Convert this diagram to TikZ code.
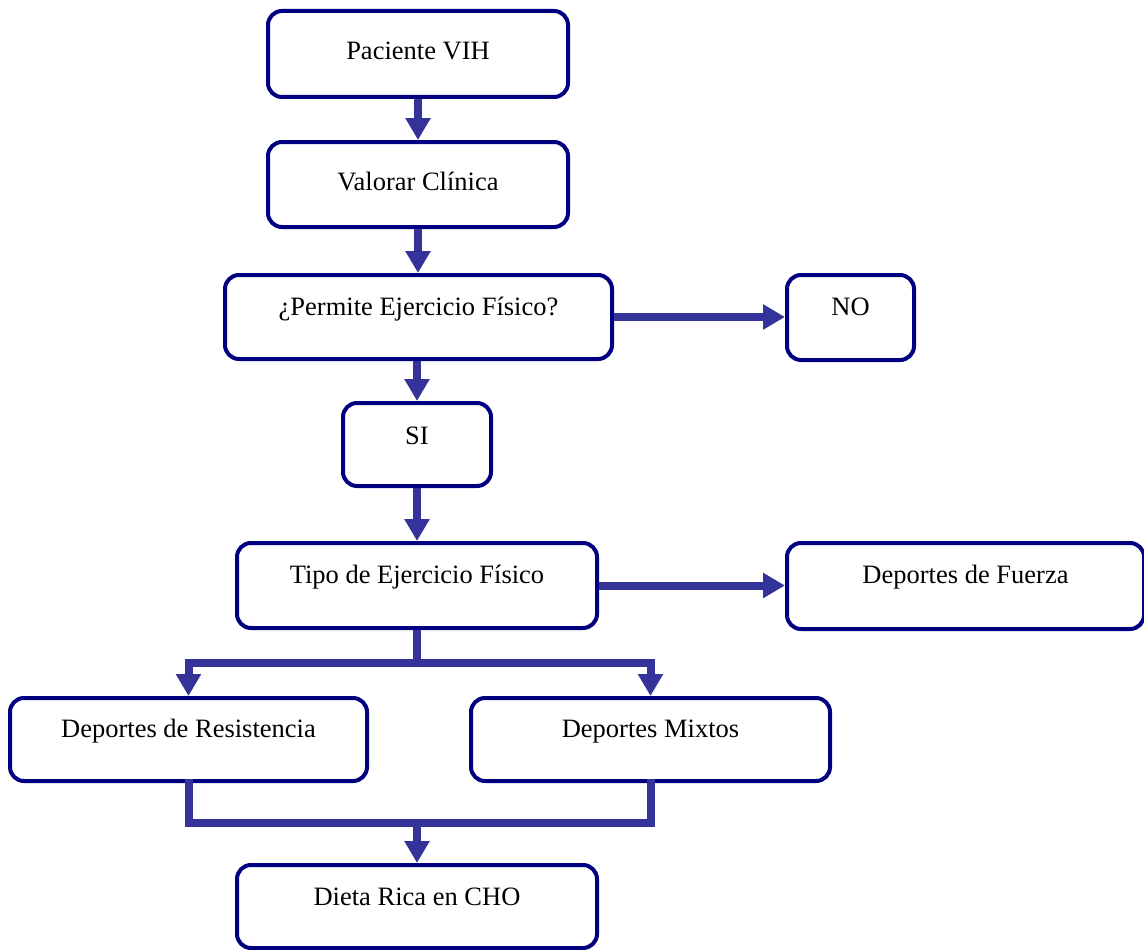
\documentclass[tikz,border=0pt]{standalone}
\usepackage{fontspec}
\setmainfont{Liberation Serif}
\usetikzlibrary{arrows.meta,calc}
\definecolor{boxline}{HTML}{000080}
\definecolor{arrowc}{HTML}{333399}
\tikzset{
  box/.style={draw=boxline, line width=4pt, rounded corners=14pt, fill=white, inner sep=0pt},
  txt/.style={anchor=base, inner sep=0pt, font=\fontsize{26.5}{30}\selectfont},
  conn/.style={draw=arrowc, line width=8pt},
  arr/.style={conn, -{Triangle[width=24pt,length=22pt]}}
}
\begin{document}
\begin{tikzpicture}[x=1pt,y=-1pt]
\useasboundingbox (0,0) rectangle (1144,950);
% boxes
\node[box, minimum width=300pt, minimum height=86pt] (A) at (418,54) {};
\node[box, minimum width=300pt, minimum height=85pt] (B) at (418,184.5) {};
\node[box, minimum width=387pt, minimum height=84pt] (C) at (418.5,317) {};
\node[box, minimum width=127pt, minimum height=85pt] (D) at (850.5,317.5) {};
\node[box, minimum width=148pt, minimum height=83pt] (E) at (417,444.5) {};
\node[box, minimum width=360pt, minimum height=85pt] (F) at (417,585.5) {};
\node[box, minimum width=357pt, minimum height=86pt] (G) at (965.5,586) {};
\node[box, minimum width=357pt, minimum height=83pt] (H) at (188.5,739.5) {};
\node[box, minimum width=359pt, minimum height=83pt] (I) at (650.5,739.5) {};
\node[box, minimum width=360pt, minimum height=83pt] (J) at (417,906.5) {};
% texts
\node[txt] (tA) at ($(A.north)+(0,51)$) {Paciente VIH};
\node[txt] (tB) at ($(B.north)+(0,50)$) {Valorar Clínica};
\node[txt] (tC) at ($(C.north)+(0,42)$) {¿Permite Ejercicio Físico?};
\node[txt] (tD) at ($(D.north)+(0,42)$) {NO};
\node[txt] (tE) at ($(E.north)+(0,43)$) {SI};
\node[txt] (tF) at ($(F.north)+(0,42)$) {Tipo de Ejercicio Físico};
\node[txt] (tG) at ($(G.north)+(0,42)$) {Deportes de Fuerza};
\node[txt] (tH) at ($(H.north)+(0,41)$) {Deportes de Resistencia};
\node[txt] (tI) at ($(I.north)+(0,41)$) {Deportes Mixtos};
\node[txt] (tJ) at ($(J.north)+(0,42)$) {Dieta Rica en CHO};
% connectors
\coordinate (split) at (417,663);
\coordinate (merge) at (417,823);
\draw[arr] (A.south) -- (B.north);
\draw[arr] (B.south) -- (C.north -| B.south);
\draw[arr] (C.south -| E.north) -- (E.north);
\draw[arr] (C.east) -- (D.west |- C.east);
\draw[arr] (E.south) -- (F.north -| E.south);
\draw[arr] (F.east) -- (G.west |- F.east);
\draw[conn] (F.south) -- (split);
\draw[conn] (H.north |- split) -- (I.north |- split);
\draw[arr] ([xshift=-4pt]H.north |- split) ++(4,-4) -- (H.north);
\draw[arr] ([xshift=4pt]I.north |- split) ++(-4,-4) -- (I.north);
\draw[conn, line cap=rect] (H.south) -- (H.south |- merge) -- (I.south |- merge) -- (I.south);
\draw[arr] (merge) -- (J.north -| merge);
\end{tikzpicture}
\end{document}
